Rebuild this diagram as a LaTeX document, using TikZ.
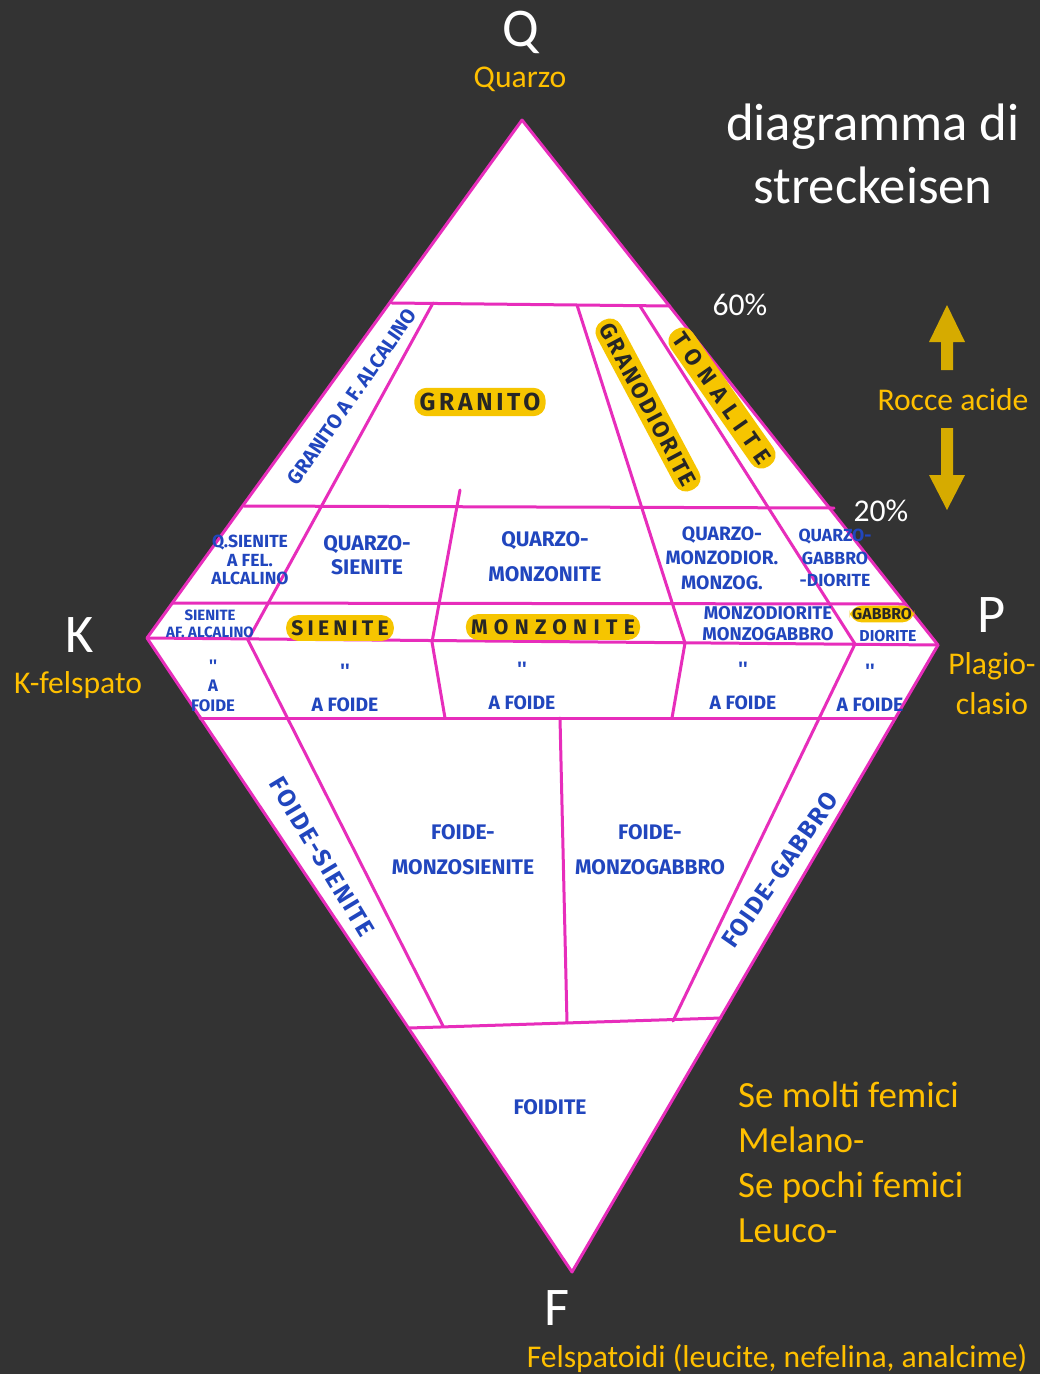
\documentclass[tikz,border=0pt]{standalone}
\usepackage{fontspec}
\setmainfont{Carlito}
\newfontfamily\handfont{Fira Sans}
\usepackage{tikz}
\usetikzlibrary{calc}
\definecolor{slide}{HTML}{333333}
\definecolor{magline}{HTML}{E72DBB}
\definecolor{handblue}{HTML}{2146BE}
\definecolor{marker}{HTML}{F6C500}
\definecolor{labelgold}{HTML}{FFC000}
\definecolor{arrowgold}{HTML}{D6AB00}
\tikzstyle{divide}=[draw=magline,line width=0.6mm,line cap=round]
\tikzstyle{handtext}=[font=\handfont\bfseries\fontsize{12}{13}\selectfont,text=handblue,
                      align=center,inner sep=1pt]
\tikzstyle{smallhand}=[handtext,font=\handfont\bfseries\fontsize{10}{11}\selectfont]
\tikzstyle{marked}=[handtext,fill=marker,text=black!85,rounded corners=7pt,inner sep=3pt]
\tikzstyle{gold}=[text=labelgold,font=\fontsize{18}{22}\selectfont]
\tikzstyle{corner}=[text=white,font=\fontsize{31}{36}\selectfont]
\newcommand\spaced[2]{{\addfontfeatures{LetterSpace=#1}#2}}
\newcommand\ditto[1]{''\\#1}

\begin{document}
\begin{tikzpicture}[x=0.2mm,y=-0.2mm]
    \useasboundingbox (0,0) rectangle (1040,1374);
    \fill[slide] (0,0) rectangle (1040,1374);
    % vertici del diagramma
    \coordinate (Q) at (522,120);
    \coordinate (P) at (938,645);
    \coordinate (F) at (572,1272);
    \coordinate (K) at (147,638);
    \filldraw[fill=white,draw=magline,line width=0.6mm,line join=round]
        (Q) -- (P) -- (F) -- (K) -- cycle;
    % linee orizzontali
    \coordinate (q60l) at (392,303);  \coordinate (q60r) at (670,306);
    \coordinate (q20l) at (244,506);  \coordinate (q20r) at (834,508);
    \coordinate (q5l)  at (172,603);  \coordinate (q5r)  at (906,604);
    \coordinate (f10l) at (200,718);  \coordinate (f10r) at (895,718);
    \coordinate (f60l) at (409,1028); \coordinate (f60r) at (721,1018);
    \draw[divide] (q60l) -- (q60r);
    \draw[divide] (q20l) -- (q20r);
    \draw[divide] (q5l) -- (q5r);
    \draw[divide] (K) -- (P);
    \draw[divide] (f10l) -- (f10r);
    \draw[divide] (f60l) -- (f60r);
    % linee radiali
    \coordinate (a1) at (433,303); \coordinate (b1) at (248,640);
    \coordinate (a2) at (577,305); \coordinate (b2) at (685,643);
    \coordinate (a3) at (640,306); \coordinate (b3) at (855,644);
    \coordinate (am) at (460,490); \coordinate (bm) at (432,642);
    \coordinate (cm) at (445,718);
    \coordinate (c2) at (672,718);
    \coordinate (d1) at (443,1026);
    \coordinate (dv) at (560,718); \coordinate (ev) at (567,1023);
    \coordinate (d3) at (673,1021);
    \draw[divide] (a1) -- (b1) -- (d1);
    \draw[divide] (a2) -- (b2) -- (c2);
    \draw[divide] (a3) -- (b3) -- (d3);
    \draw[divide] (am) -- (bm) -- (cm);
    \draw[divide] (dv) -- (ev);
    % campi
    \node [handtext,rotate=55,font=\handfont\bfseries\fontsize{11.5}{12}\selectfont] (granitoaf) at (352,397) {GRANITO A F. ALCALINO};
    \node [marked,font=\handfont\bfseries\fontsize{14}{15}\selectfont] (granito) at (480,402) {\spaced{15}{GRANITO}};
    \node [marked,rotate=-62,font=\handfont\bfseries\fontsize{13}{14}\selectfont] (granodiorite) at (648,405) {\spaced{10}{GRANODIORITE}};
    \node [marked,rotate=-55,font=\handfont\bfseries\fontsize{13}{14}\selectfont] (tonalite) at (722,398) {\spaced{35}{TONALITE}};
    \node [smallhand,font=\handfont\bfseries\fontsize{10}{10.5}\selectfont] (qsienitealc) at (250,560) {Q.SIENITE\\A FEL.\\ALCALINO};
    \node [handtext,font=\handfont\bfseries\fontsize{12}{14}\selectfont] (qsienite) at (367,555) {QUARZO-\\SIENITE};
    \node [handtext,font=\handfont\bfseries\fontsize{12}{20}\selectfont] (qmonzonite) at (545,557) {QUARZO-\\MONZONITE};
    \node [handtext,font=\handfont\bfseries\fontsize{11}{14}\selectfont] (qmonzodior) at (722,558) {QUARZO-\\MONZODIOR.\\MONZOG.};
    \node [smallhand,font=\handfont\bfseries\fontsize{10}{13}\selectfont] (qgabbro) at (835,558) {QUARZO-\\GABBRO\\-DIORITE};
    \node [smallhand,font=\handfont\bfseries\fontsize{8.5}{10}\selectfont] (sienitealc) at (210,624) {SIENITE\\AF. ALCALINO};
    \node [marked,font=\handfont\bfseries\fontsize{12}{13}\selectfont] (sienite) at (340,628) {\spaced{20}{SIENITE}};
    \node [marked,font=\handfont\bfseries\fontsize{12}{13}\selectfont] (monzonite) at (553,627) {\spaced{30}{MONZONITE}};
    \node [handtext,font=\handfont\bfseries\fontsize{10.5}{12}\selectfont] (monzodiorite) at (768,624) {MONZODIORITE\\MONZOGABBRO};
    \node [marked,font=\handfont\bfseries\fontsize{9}{10}\selectfont,inner sep=1.5pt] (gabbro) at (882,614) {GABBRO};
    \node [smallhand,font=\handfont\bfseries\fontsize{9}{10}\selectfont] (diorite) at (888,636) {DIORITE};
    \node [smallhand,font=\handfont\bfseries\fontsize{9.5}{11.5}\selectfont] (foide1) at (213,686) {''\\A\\FOIDE};
    \node [handtext,font=\handfont\bfseries\fontsize{11}{19}\selectfont] (foide2) at (345,688) {\ditto{A FOIDE}};
    \node [handtext,font=\handfont\bfseries\fontsize{11}{19}\selectfont] (foide3) at (522,686) {\ditto{A FOIDE}};
    \node [handtext,font=\handfont\bfseries\fontsize{11}{19}\selectfont] (foide4) at (743,686) {\ditto{A FOIDE}};
    \node [handtext,font=\handfont\bfseries\fontsize{11}{19}\selectfont] (foide5) at (870,688) {\ditto{A FOIDE}};
    \node [handtext,rotate=-59,font=\handfont\bfseries\fontsize{14}{15}\selectfont] (foidesienite) at (322,857) {\spaced{8}{FOIDE-SIENITE}};
    \node [handtext,font=\handfont\bfseries\fontsize{12}{20}\selectfont] (foidemonzos) at (463,850) {FOIDE-\\MONZOSIENITE};
    \node [handtext,font=\handfont\bfseries\fontsize{12}{20}\selectfont] (foidemonzog) at (650,850) {FOIDE-\\MONZOGABBRO};
    \node [handtext,rotate=55,font=\handfont\bfseries\fontsize{14}{15}\selectfont] (foidegabbro) at (780,870) {\spaced{6}{FOIDE-GABBRO}};
    \node [handtext] (foidite) at (550,1107) {FOIDITE};
    % vertici e scritte
    \node [corner] (qlabel) at (521,32) {Q};
    \node [gold] (quarzo) at (520,79) {Quarzo};
    \node [corner] (klabel) at (80,635) {K};
    \node [gold] (kfelspato) at (78,685) {K-felspato};
    \node [corner] (plabel) at (992,615) {P};
    \node [gold,align=center,font=\fontsize{18}{22.7}\selectfont] (plagio) at (992,684) {Plagio-\\clasio};
    \node [corner] (flabel) at (557,1308) {F};
    \node [gold] (felspatoidi) at (777,1358) {Felspatoidi (leucite, nefelina, analcime)};
    \node [text=white,align=center,font=\fontsize{30}{36}\selectfont] (titolo) at (873,154) {diagramma di\\streckeisen};
    \node [text=white,font=\fontsize{18}{22}\selectfont] (p60) at (740,305) {60\%};
    \node [text=white,font=\fontsize{18}{22}\selectfont] (p20) at (881,511) {20\%};
    \node [gold] (acide) at (953,400) {Rocce acide};
    \fill[arrowgold] (941,370) -- (941,342) -- (929,342) -- (947,305) -- (965,342)
        -- (953,342) -- (953,370) -- cycle;
    \fill[arrowgold] (941,428) -- (941,475) -- (929,475) -- (947,510) -- (965,475)
        -- (953,475) -- (953,428) -- cycle;
    \node [gold,anchor=west,align=left,font=\fontsize{21}{25.6}\selectfont] (femici) at (732,1162)
        {Se molti femici\\Melano-\\Se pochi femici\\Leuco-};
\end{tikzpicture}
\end{document}
